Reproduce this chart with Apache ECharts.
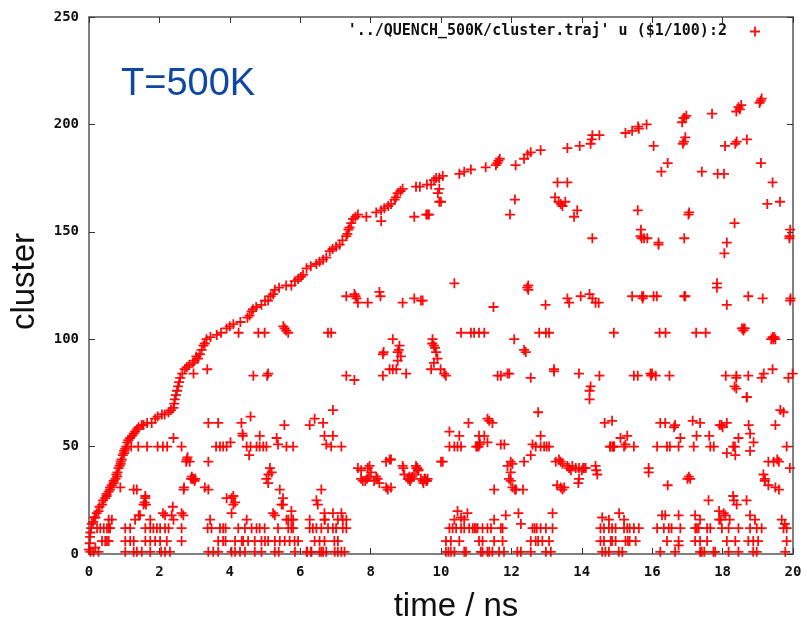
<!DOCTYPE html>
<html><head><meta charset="utf-8">
<script src="https://cdn.jsdelivr.net/npm/echarts@6/dist/echarts.min.js"></script>
<style>html,body{margin:0;padding:0;background:#fff}#c{width:807px;height:628px}</style>
</head><body><div id="c"></div>
<script>
// ---- data (time in ns, cluster size) ----
const seriesName = "'../QUENCH_500K/cluster.traj' u ($1/100):2";
const xTicks = [0, 2, 4, 6, 8, 10, 12, 14, 16, 18, 20];
const yTicks = [0, 50, 100, 150, 200, 250];

const growthCurve = [
[0.0,2],[0.02,5],[0.03,8],[0.04,10],[0.06,12],[0.08,14],[0.12,15],[0.15,17],[0.18,17],[0.22,19],[0.27,20],[0.3,22],
[0.37,23],[0.4,25],[0.46,26],[0.5,28],[0.5,27],[0.56,29],[0.6,31],[0.6,30],[0.65,32],[0.7,34],[0.7,33],[0.75,35],[0.78,37],
[0.8,36],[0.81,38],[0.84,40],[0.87,41],[0.9,43],[0.9,42],[0.93,44],[0.96,46],[1.0,47],[1.0,48],[1.03,49],[1.06,50],[1.09,52],
[1.12,53],[1.17,54],[1.22,55],[1.27,56],[1.31,57],[1.36,58],[1.41,59],[1.5,60],[1.55,60],[1.65,61],[1.78,61],[1.88,63],
[1.95,64],[2.07,65],[2.15,65],[2.26,66],[2.33,67],[2.4,68],[2.42,70],[2.44,72],[2.47,74],[2.5,76],[2.53,78],[2.56,80],
[2.59,82],[2.65,84],[2.72,86],[2.78,87],[2.85,88],[2.95,89],[3.0,90],[3.05,92],[3.1,91],[3.15,93],[3.2,95],[3.25,97],
[3.29,98],[3.34,100],[3.45,101],[3.63,102],[3.75,103],[3.91,105],[4.0,106],[4.1,107],[4.3,108],[4.5,110],[4.56,111],
[4.62,113],[4.66,114],[4.75,115],[4.9,116],[5.0,118],[5.09,118],[5.16,120],[5.23,121],[5.28,123],[5.4,124],[5.6,125],
[5.75,125],[5.85,127],[5.94,128],[6.02,129],[6.08,130],[6.18,133],[6.3,134],[6.46,135],[6.55,136],[6.65,137],[6.74,138],
[6.84,141],[6.92,142],[7.02,143],[7.12,144],[7.2,146],[7.31,148],[7.34,149],[7.37,151],[7.4,152],[7.45,154],[7.5,156],
[7.57,157],[7.64,158],[7.88,157],[8.16,159],[8.3,160],[8.39,161],[8.5,162],[8.58,163],[8.68,165],[8.72,166],[8.77,168],
[8.85,169],[8.91,170],[9.29,171],[9.4,171],[9.6,172],[9.72,172],[9.8,174],[9.86,175],[9.95,175],[10.05,176],[10.52,177],
[10.66,178],[10.85,179],[11.27,180],[11.56,181],[11.6,182],[11.63,183],[11.67,184],[12.12,181],[12.36,184],[12.46,186],
[12.55,187],[12.83,188],[13.59,189],[13.94,190],[14.25,191],[14.28,193],[14.3,195],[14.5,195],[15.24,196],[15.43,197],
[15.62,198],[15.6,199],[15.84,200],[16.85,201],[16.89,203],[16.92,203],[16.97,204],[17.7,205],[18.39,206],[18.45,208],
[18.49,207],[18.53,209],[19.05,210],[19.08,211],[19.11,212]
];

const upperScatter = [
[9.24,157],[9.58,158],[9.62,158],[9.66,158],[8.3,155],[9.91,168],[9.95,164],[9.95,170],[10.0,164],[12.1,165],[11.96,158],
[13.31,173],[13.59,173],[13.24,166],[13.34,164],[13.4,163],[13.45,162],[13.53,164],[13.87,160],[13.78,157],[14.3,147],
[16.04,190],[16.87,191],[16.9,192],[16.94,194],[18.07,190],[18.36,191],[18.4,192],[18.69,193],[16.44,182],[16.26,178],
[17.41,178],[17.86,177],[18.04,177],[19.09,182],[19.42,173],[19.27,163],[19.63,164],[15.59,160],[17.03,158],[17.05,159],
[18.34,154],[19.92,151],[19.9,148],[19.9,147],[15.68,151],[15.67,148],[15.7,147],[15.77,147],[15.86,147],[16.18,145],
[16.18,144],[16.91,147],[18.12,145],[18.05,140]
];

const band120 = [
[7.31,120],[7.54,121],[7.57,120],[7.6,119],[7.64,117],[7.92,117],[8.25,122],[8.28,120],[8.91,117],[9.24,119],[9.43,118],
[9.48,118],[10.38,126],[12.48,125],[12.45,124],[12.48,123],[11.49,115],[12.97,116],[13.59,119],[13.64,117],[13.97,120],
[14.22,121],[14.3,119],[14.39,117],[14.48,117],[17.84,126],[17.84,124],[15.43,120],[15.71,120],[15.73,119],[15.75,120],
[16.04,120],[16.13,120],[16.91,120],[16.94,120],[18.12,116],[18.73,120],[19.14,119],[19.92,118],[19.93,119]
];

const band103 = [
[4.25,103],[4.81,103],[4.99,103],[5.52,106],[5.56,105],[5.6,104],[5.66,103],[6.79,103],[6.88,103],[10.57,103],[10.85,103],
[10.94,103],[11.08,103],[11.23,103],[12.79,103],[12.98,103],[13.07,103],[14.91,103],[12.08,100],[12.36,95],[12.41,94],
[16.21,103],[16.38,103],[17.25,103],[17.52,103],[18.55,105],[18.59,105],[18.63,105],[18.59,104],[19.38,100],[19.44,100],
[19.5,100],[19.42,101],[19.47,101],
[8.37,94],[8.35,93],[8.63,100],[8.77,94],[8.8,95],[8.82,97],[8.77,90],[8.86,92],[9.75,98],[9.76,100],[9.8,97],[9.83,96],
[9.86,94],[9.9,91],[9.8,89],[9.72,86],[9.99,86]
];

const band84 = [
[2.97,84],[3.36,86],[4.67,83],[5.06,83],[5.09,84],[7.31,83],[7.54,81],[8.35,83],[8.54,86],[8.63,86],[8.73,86],[9.01,84],
[10.09,84],[10.14,83],[11.61,83],[11.7,83],[11.89,84],[11.94,84],[12.55,82],[13.21,86],[13.21,85],[13.92,84],[14.5,83],
[14.25,78],[14.22,76],[15.48,83],[15.59,83],[15.95,84],[15.97,83],[16.0,84],[16.1,83],[16.49,83],[18.09,83],[18.39,83],
[18.39,82],[18.73,83],[19.11,82],[19.17,84],[19.42,86],[19.87,82],[19.99,84],[18.34,78],[18.39,77],[18.69,73]
];

const midPoints = [
[1.2,50],[1.4,50],[1.65,50],[1.95,50],[2.1,50],[2.22,50],[2.4,54],[2.63,50],[3.39,61],[3.67,61],[3.61,50],[3.72,50],
[3.81,50],[3.91,50],[4.02,52],[4.33,61],[4.59,64],[4.36,56],[4.37,55],[4.48,50],[4.59,50],[4.55,46],[4.85,55],[4.76,50],
[4.85,50],[4.95,50],[5.04,50],
[6.93,67],[6.41,63],[6.27,60],[6.65,61],[5.55,60],[5.33,54],[5.37,51],[5.61,50],[5.8,50],[6.69,55],[6.93,55],[6.74,51],
[6.88,50],[7.17,50],
[14.22,72],[12.76,66],[11.32,63],[11.37,62],[11.46,61],[10.78,61],[10.24,57],[10.52,55],[11.08,55],[11.23,55],[11.1,52],
[11.32,52],[10.24,50],[10.38,50],[10.47,50],[10.57,50],[11.0,50],[11.04,50],[11.07,50],[11.1,51],[11.7,51],[11.8,51],
[12.83,55],[12.6,51],[12.69,50],[12.83,50],[12.93,50],[13.0,50],[13.07,50],[12.55,46],[14.65,61],[14.86,62],[14.8,50],
[14.9,50],
[18.68,73],[19.64,67],[19.73,66],[16.23,61],[16.37,61],[16.65,60],[16.62,59],[17.15,62],[17.36,61],[17.92,60],[17.97,60],
[18.12,61],[18.0,59],[18.74,60],[18.78,56],[19.5,60],[15.1,54],[15.29,55],[16.8,54],[17.26,55],[17.62,55],[18.45,54],
[18.88,52],[14.82,50],[14.88,50],[14.92,50],[15.2,50],[15.24,51],[15.48,50],[16.14,50],[16.42,50],[16.5,50],[16.75,50],
[17.18,50],[17.65,50],[17.75,50],[18.3,50],[18.35,50],[18.12,47],[18.36,46],[18.78,48],[19.82,50]
];

const lowMid = [
[0.89,31],[1.27,30],[1.36,30],[1.6,27],[1.6,26],[1.58,24],[1.55,23],[1.62,23],[2.76,43],[2.78,44],[2.8,45],[2.86,43],
[2.9,35],[2.92,36],[2.95,35],[2.97,35],[3.0,34],[3.02,35],[2.7,31],[2.69,30],[3.39,43],[3.29,31],[3.39,30],[3.91,26],
[4.05,26],[4.1,27],[4.15,24],[4.1,23],
[5.14,40],[5.19,38],[5.1,37],[5.04,35],[5.09,33],[5.42,30],[5.51,26],[5.51,23],[5.47,23],[6.6,30],[6.46,25],[6.5,23],[5.75,20],
[7.64,40],[7.73,39],[7.92,40],[7.97,41],[8.01,38],[7.73,35],[7.78,34],[7.85,34],[7.9,35],[7.95,36],[8.1,34],[8.16,36],
[8.2,35],[8.25,33],[8.44,31],[8.49,30],[8.58,31],[8.44,43],[8.54,44],[8.58,44],[8.91,41],[8.93,40],[8.96,37],[9.06,35],
[9.1,36],[9.1,35],[9.12,34],[9.15,35],[9.18,36],[9.24,37],[9.29,41],[9.3,40],[9.33,40],[9.35,39],[9.36,39],[9.43,35],
[9.48,34],[9.5,33],[9.53,35],[9.55,35],[9.58,34],[9.6,34],[9.62,35],[10.0,43],[10.05,43],
[11.98,43],[12.03,42],[11.89,41],[12.36,43],[11.98,38],[11.93,35],[11.98,34],[12.03,31],[12.1,30],[12.13,30],[12.33,30],
[11.51,30],[13.26,43],[13.35,44],[13.4,43],[13.45,42],[13.59,41],[13.64,40],[13.69,39],[13.73,41],[13.83,40],[13.92,40],
[14.0,39],[14.04,40],[14.06,40],[14.11,40],[14.39,41],[14.41,39],[14.44,37],[13.92,35],[13.9,33],[13.3,32],[13.4,31],
[13.45,30],[13.5,31],
[15.9,40],[15.9,38],[17.0,35],[17.04,36],[17.08,35],[16.44,32],[17.6,25],[18.68,25],[18.3,27],[18.32,25],[18.4,23],
[19.3,43],[19.45,43],[19.55,44],[19.6,43],[19.16,37],[19.2,35],[19.2,34],[19.3,32],[19.5,31],[19.6,30],[19.91,40]
];

const low16 = [
[0.56,16],[0.65,16],[1.31,16],[1.41,18],[1.45,18],[1.74,16],[2.1,19],[2.16,18],[2.35,18],[2.4,16],[2.38,22],[2.63,19],
[2.68,18],[3.44,16],[4.05,19],[4.48,16],[5.23,19],[5.28,18],[5.61,16],[5.66,16],[5.75,16],[5.8,16],[6.27,16],[6.69,19],
[6.69,16],[6.7,16],[6.93,19],[7.07,16],[7.17,19],[7.21,16],[7.31,16],
[10.47,20],[10.38,16],[10.57,17],[10.66,16],[10.75,19],[11.84,18],[12.2,19],[13.17,19],[11.51,16],[12.27,14],[14.58,17],
[14.77,16],[15.06,19],[15.2,16],[16.28,18],[16.37,18],[16.75,18],[17.22,18],[17.36,16],[17.9,20],[18.03,19],[18.08,18],
[17.9,16],[17.95,16],[18.2,16],[18.78,18],[18.92,16],[19.68,16],[19.77,14],[16.75,4]
];

const band12 = [
[0.23,12],[0.32,12],[0.42,12],[0.51,12],[0.56,12],[0.6,12],[1.03,12],[1.17,12],[1.6,12],[1.74,12],[1.83,12],[1.93,12],
[2.02,12],[2.16,12],[2.26,12],[2.63,12],[3.37,12],[3.48,12],[3.72,12],[3.81,12],[3.88,12],[4.24,12],[4.43,12],[4.62,12],
[4.76,12],[4.85,12],[4.99,12],[5.37,12],[5.66,12],[5.75,12],[5.8,12],[6.27,12],[6.36,12],[6.46,12],[6.6,12],[6.79,12],
[6.93,12],[7.02,12],[7.21,12],[7.31,12],
[10.24,12],[10.33,12],[10.43,12],[10.57,12],[10.66,12],[10.8,12],[10.9,12],[10.95,12],[10.99,12],[11.04,12],[11.18,12],
[11.32,12],[11.42,12],[11.7,12],[11.75,12],[12.6,12],[12.66,12],[12.72,12],[12.83,12],[12.98,12],[13.17,12],[14.53,12],
[14.63,12],[14.77,12],[14.86,12],[14.96,12],[15.2,12],[15.29,12],[15.36,12],[15.48,12],[15.62,12],[16.14,12],[16.33,12],
[16.47,12],[16.55,12],[16.8,12],[17.22,12],[17.27,12],[17.32,12],[17.56,12],[17.65,12],[17.98,12],[18.17,12],[18.45,12],
[18.78,12],[18.97,12],[19.11,12],[19.73,12],[19.82,12]
];

const band6 = [
[0.37,6],[0.46,6],[0.51,6],[0.56,6],[1.03,6],[1.17,6],[1.27,6],[1.6,6],[1.74,6],[1.88,6],[2.02,6],[2.21,6],[2.63,6],
[3.67,6],[3.81,6],[3.88,6],[4.15,6],[4.34,6],[4.38,6],[4.52,6],[4.71,6],[4.9,6],[5.0,6],[5.09,6],[5.28,6],[5.42,6],
[5.56,6],[5.7,6],[5.84,6],[5.94,6],[6.41,6],[6.55,6],[6.69,6],[6.97,6],[7.07,6],
[10.14,6],[10.28,6],[10.52,6],[11.08,6],[11.18,6],[11.51,6],[11.75,6],[12.55,6],[12.69,6],[12.76,6],[12.88,6],[13.07,6],
[14.53,6],[14.63,6],[14.82,6],[14.86,6],[14.96,6],[15.24,6],[15.31,6],[15.36,6],[15.53,6],[16.42,6],[16.75,6],[17.22,6],
[17.36,6],[17.56,6],[18.12,6],[18.36,6],[18.73,6],[18.87,6],[19.01,6],[19.82,6]
];

const band1 = [
[0.04,1],[0.13,1],[0.27,1],[0.18,3],[1.03,1],[1.27,1],[1.36,1],[1.5,1],[1.74,1],[2.05,1],[2.16,1],[2.3,1],[3.39,1],
[3.53,1],[3.67,1],[4.05,1],[4.15,1],[4.29,1],[4.43,1],[4.71,1],[4.9,1],[5.28,1],[5.39,1],[5.85,1],[6.18,1],[6.2,1],
[6.3,1],[6.32,1],[6.55,1],[6.6,1],[6.65,1],[6.74,1],[6.98,1],[7.07,1],[7.17,1],[7.26,1],
[10.14,1],[10.21,1],[10.28,1],[10.38,1],[10.66,1],[10.71,1],[11.13,1],[11.18,1],[11.32,1],[11.37,1],[11.46,1],[11.65,1],
[11.79,1],[12.17,1],[12.27,1],[12.55,1],[12.98,1],[13.12,1],[14.58,1],[14.67,1],[14.77,1],[15.05,1],[15.15,1],[16.23,1],
[16.65,1],[17.36,1],[17.41,1],[17.48,1],[17.74,1],[17.79,1],[18.17,1],[18.45,1],[18.87,1],[18.97,1],[19.78,1]
];

// ---- chart ----
const allPoints = [].concat(growthCurve, upperScatter, band120, band103, band84, midPoints, lowMid, low16, band12, band6, band1);
const plus = 'path://M4.1,0H5.9V4.1H10V5.9H5.9V10H4.1V5.9H0V4.1H4.1Z';
const mono = "'DejaVu Sans Mono', monospace";
const sans = "'Liberation Sans', Arial, sans-serif";
const frame = {show: true, onZero: false, lineStyle: {color: '#555', width: 1.5}};
const tick = {show: true, inside: true, length: 6, lineStyle: {color: '#333', width: 1}};

const chart = echarts.init(document.getElementById('c'), null, {renderer: 'canvas'});
chart.setOption({
  animation: false,
  backgroundColor: '#fff',
  grid: {left: 87, right: 14, top: 17, bottom: 71, containLabel: false},
  legend: {
    show: true, right: 42, top: 19, align: 'right', itemWidth: 10, itemHeight: 10, icon: plus,
    formatter: n => n + '  ',
    textStyle: {fontFamily: mono, fontWeight: 'bold', fontSize: 15, color: '#111'},
    data: [{name: seriesName, itemStyle: {color: '#ff0000'}}]
  },
  xAxis: [
    {type: 'value', min: xTicks[0], max: xTicks[xTicks.length - 1], interval: xTicks[1] - xTicks[0], position: 'bottom',
     axisLine: frame, axisTick: tick, splitLine: {show: false},
     axisLabel: {margin: 11, fontFamily: mono, fontWeight: 'bold', fontSize: 14, color: '#111'},
     name: 'time / ns', nameLocation: 'middle', nameGap: 36,
     nameTextStyle: {fontFamily: sans, fontSize: 33, color: '#111', padding: [0, 0, 0, 30]}},
    {type: 'value', min: xTicks[0], max: xTicks[xTicks.length - 1], interval: xTicks[1] - xTicks[0], position: 'top',
     axisLine: frame, axisTick: tick, splitLine: {show: false}, axisLabel: {show: false}}
  ],
  yAxis: [
    {type: 'value', min: yTicks[0], max: yTicks[yTicks.length - 1], interval: yTicks[1] - yTicks[0], position: 'left',
     axisLine: frame, axisTick: tick, splitLine: {show: false},
     axisLabel: {margin: 10, fontFamily: mono, fontWeight: 'bold', fontSize: 14, color: '#111'},
     name: 'cluster', nameLocation: 'middle', nameGap: 48, nameRotate: 90,
     nameTextStyle: {fontFamily: sans, fontSize: 33, color: '#111', padding: [0, 0, 0, 8]}},
    {type: 'value', min: yTicks[0], max: yTicks[yTicks.length - 1], interval: yTicks[1] - yTicks[0], position: 'right',
     axisLine: frame, axisTick: tick, splitLine: {show: false}, axisLabel: {show: false}}
  ],
  graphic: [
    {type: 'text', left: 121, top: 66,
     style: {text: 'T=500K', fill: '#0f47a3', font: "38px 'Liberation Sans', Arial, sans-serif"}}
  ],
  series: [{
    name: seriesName, type: 'scatter', xAxisIndex: 0, yAxisIndex: 0,
    symbol: plus, symbolSize: 10, clip: true,
    itemStyle: {color: '#ff0000', opacity: 0.95},
    emphasis: {disabled: true},
    data: allPoints
  }]
});
</script></body></html>
